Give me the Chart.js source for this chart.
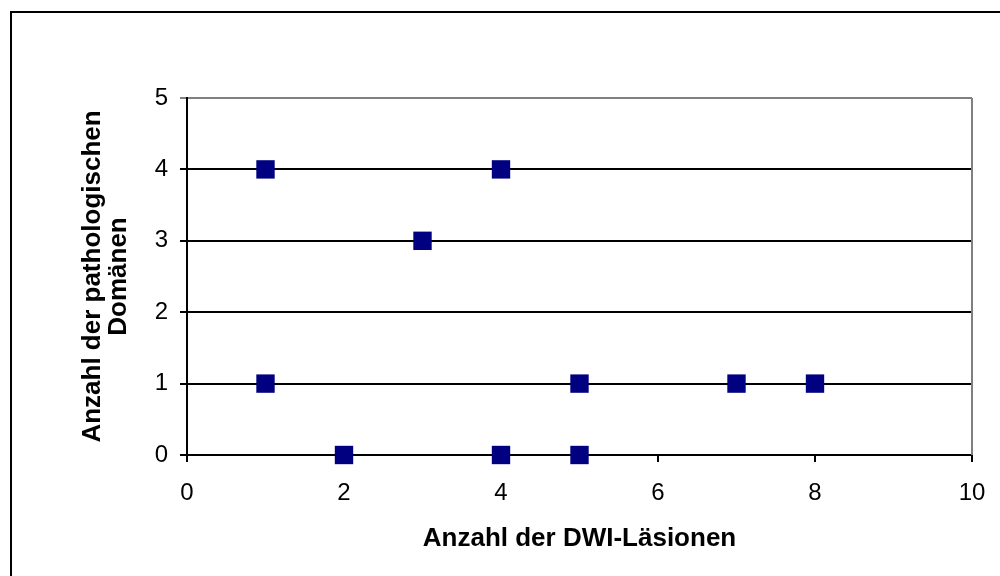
<!DOCTYPE html>
<html><head><meta charset="utf-8">
<script src="https://cdn.jsdelivr.net/npm/chart.js@4.4.1/dist/chart.umd.min.js"></script>
<style>html,body{margin:0;padding:0;background:#fff;}#wrap{width:1000px;height:576px;}</style>
</head><body><div id="wrap"><canvas id="c" width="1000" height="576"></canvas></div>
<script>
const xValues = [1, 4, 3, 1, 5, 7, 8, 2, 4, 5];
const yValues = [4, 4, 3, 1, 1, 1, 1, 0, 0, 0];
const xTitle = 'Anzahl der DWI-Läsionen';
const yTitle = ['Anzahl der pathologischen', 'Domänen'];
const xTicks = [0, 2, 4, 6, 8, 10];
const yTicks = [0, 1, 2, 3, 4, 5];

const points = xValues.map((x, i) => ({x: x, y: yValues[i]}));
const FONT = "'Liberation Sans', Arial, sans-serif";

const framePlugin = {
  id: 'frame',
  beforeDraw(chart) {
    const ctx = chart.ctx;
    ctx.save();
    ctx.fillStyle = '#fff';
    ctx.fillRect(0, 0, chart.width, chart.height);
    ctx.strokeStyle = '#000';
    ctx.lineWidth = 2;
    ctx.strokeRect(11, 12, 1100, 700);
    ctx.restore();
  },
  beforeDatasetsDraw(chart) {
    const a = chart.chartArea, ctx = chart.ctx;
    ctx.save();
    ctx.strokeStyle = '#808080';
    ctx.lineWidth = 2;
    ctx.beginPath();
    ctx.moveTo(a.right, a.top);
    ctx.lineTo(a.right, a.bottom);
    ctx.stroke();
    ctx.restore();
  }
};

new Chart(document.getElementById('c'), {
  type: 'scatter',
  data: { datasets: [{
    data: points,
    clip: false,
    pointStyle: 'rect',
    pointRadius: 13,
    pointHoverRadius: 13,
    backgroundColor: '#000080',
    borderColor: '#000080',
    borderWidth: 0
  }]},
  options: {
    responsive: false,
    animation: false,
    events: [],
    layout: { padding: { left: 0, top: 98, right: 28, bottom: 0 } },
    plugins: { legend: { display: false }, tooltip: { enabled: false } },
    scales: {
      x: {
        type: 'linear', min: 0, max: 10,
        afterBuildTicks: s => { s.ticks = xTicks.map(v => ({value: v})); },
        afterFit: s => { s.height = 121; s.paddingLeft = 0; s.paddingRight = 0; },
        grid: { drawOnChartArea: false, drawTicks: true, tickLength: 7, color: '#000', lineWidth: 2 },
        border: { color: '#000', width: 2 },
        ticks: { color: '#000', font: { family: FONT, size: 24 }, padding: 17, maxRotation: 0 },
        title: { display: true, text: xTitle, color: '#000', font: { family: FONT, size: 26, weight: 'bold', lineHeight: 1 }, padding: { top: 0, bottom: 24 } }
      },
      y: {
        type: 'linear', min: 0, max: 5,
        afterBuildTicks: s => { s.ticks = yTicks.map(v => ({value: v})); },
        afterFit: s => { s.width = 187; s.paddingTop = 0; s.paddingBottom = 0; },
        grid: { drawTicks: true, tickLength: 7, lineWidth: 2,
          color: c => c.tick && c.tick.value === 5 ? '#808080' : '#000' },
        border: { color: '#000', width: 2 },
        ticks: { color: '#000', font: { family: FONT, size: 24 }, padding: 12 },
        title: { display: true, text: yTitle, color: '#000', font: { family: FONT, size: 26, weight: 'bold', lineHeight: 1 }, padding: { top: 80, bottom: 0 } }
      }
    }
  },
  plugins: [framePlugin]
});
</script>
</body></html>
